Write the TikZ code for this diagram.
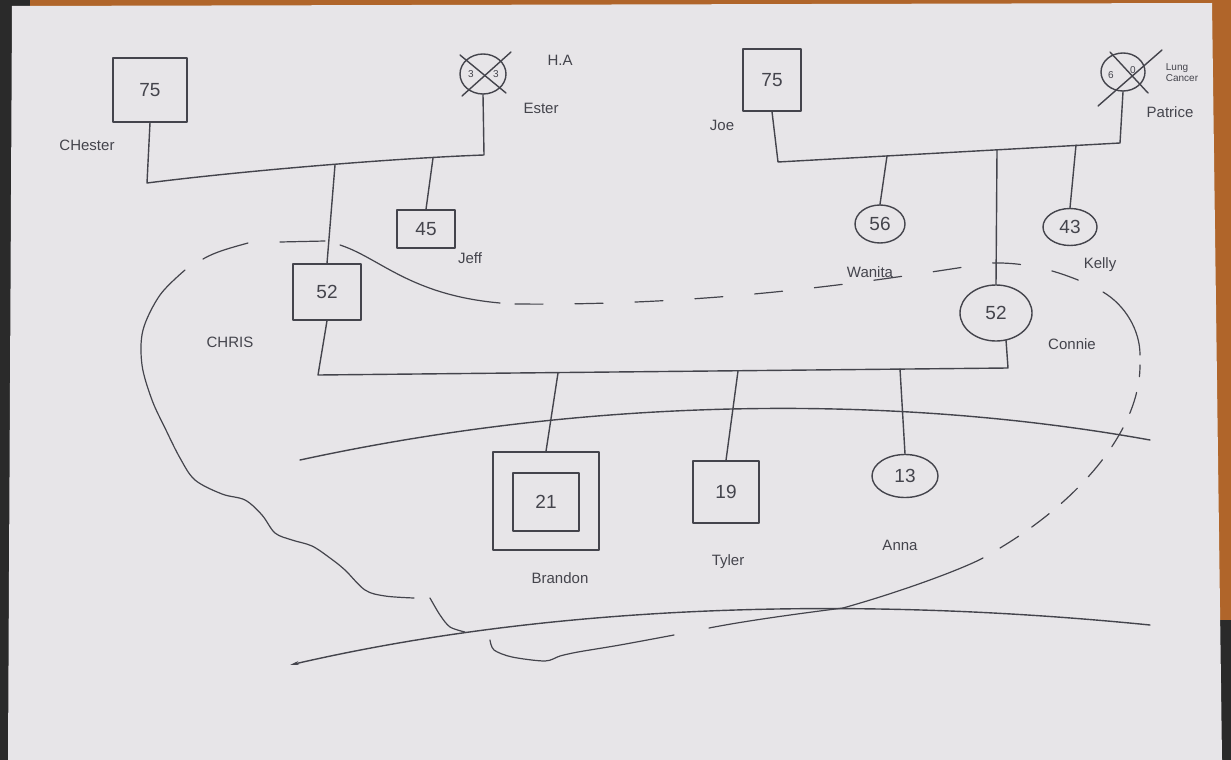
\documentclass[tikz,border=0pt]{standalone}
\usepackage{fontspec}
\setmainfont{Liberation Sans}
\usetikzlibrary{arrows.meta,shapes.geometric}
\definecolor{ink}{HTML}{44444C}
\definecolor{paper}{HTML}{E7E5E8}
\definecolor{wood}{HTML}{B0652A}
\definecolor{darkbg}{HTML}{2A2A2A}
\tikzset{
  pen/.style={draw=ink, line width=1.4pt, line join=round, line cap=round},
  bd/.style={draw=ink, line width=1.2pt, line join=round, line cap=round},
  male/.style={pen, rectangle, inner sep=0pt, text=ink, font=\fontsize{19}{19}\selectfont},
  female/.style={pen, ellipse, inner sep=0pt, text=ink, font=\fontsize{19}{19}\selectfont},
  lbl/.style={text=ink, inner sep=0pt, font=\fontsize{15}{15}\selectfont},
  small/.style={text=ink, inner sep=0pt, font=\fontsize{10}{10}\selectfont}
}
\begin{document}
\begin{tikzpicture}[x=1pt,y=-1pt]
% photo background and paper
\fill[darkbg] (0,0) rectangle (1231,760);
\fill[wood] (30,0) rectangle (1231,620);
\fill[paper] (12,6) -- (1212,3) -- (1222,760) -- (8,760) -- cycle;
\useasboundingbox (0,0) rectangle (1231,760);

% ---------- first generation ----------
\node[male, minimum width=74pt, minimum height=64pt] (chester) at (150,90) {75};
\node[lbl] (chesterl) at (87,145) {CHester};
\node[female, minimum width=46pt, minimum height=40pt] (esther) at (483,74) {};
\draw[pen] (460,55) -- (506,93);
\draw[pen] (511,52) -- (462,96);
\node[small] (est1) at (471,74) {3};
\node[small] (est2) at (496,74) {3};
\node[lbl] (hal) at (560,60) {H.A};
\node[lbl] (estherl) at (541,108) {Ester};

\node[male, minimum width=58pt, minimum height=62pt] (joe) at (772,80) {75};
\node[lbl] (joel) at (722,125) {Joe};
\node[female, minimum width=44pt, minimum height=38pt] (patrice) at (1123,72) {};
\draw[pen] (1098,106) -- (1162,50);
\draw[pen] (1110,52) -- (1148,93);
\node[small] (pat1) at (1111,75) {6};
\node[small] (pat2) at (1133,70) {0};
\node[small, align=left, font=\fontsize{10}{11}\selectfont] (lung) at (1182,73) {Lung\\Cancer};
\node[lbl] (patricel) at (1170,112) {Patrice};

% ---------- second generation ----------
\node[male, minimum width=68pt, minimum height=56pt] (chris) at (327,292) {52};
\node[lbl] (chrisl) at (230,342) {CHRIS};
\node[male, minimum width=58pt, minimum height=38pt] (jeff) at (426,229) {45};
\node[lbl] (jeffl) at (470,258) {Jeff};
\node[female, minimum width=50pt, minimum height=38pt] (wanita) at (880,224) {56};
\node[lbl] (wanital) at (870,272) {Wanita};
\node[female, minimum width=72pt, minimum height=56pt] (connie) at (996,313) {52};
\node[lbl] (conniel) at (1072,344) {Connie};
\node[female, minimum width=54pt, minimum height=37pt] (kelly) at (1070,227) {43};
\node[lbl] (kellyl) at (1100,265) {Kelly};

% ---------- third generation ----------
\node[male, minimum width=106pt, minimum height=98pt] (brandono) at (546,501) {};
\node[male, minimum width=66pt, minimum height=58pt] (brandon) at (546,502) {21};
\node[lbl] (brandonl) at (560,578) {Brandon};
\node[male, minimum width=66pt, minimum height=62pt] (tyler) at (726,492) {19};
\node[lbl] (tylerl) at (728,562) {Tyler};
\node[female, minimum width=66pt, minimum height=43pt] (anna) at (905,476) {13};
\node[lbl] (annal) at (900,545) {Anna};

% ---------- connectors ----------
\coordinate (cm) at (147,183);
\coordinate (em) at (484,155);
\coordinate (chrisd) at (335,165);
\coordinate (jeffd) at (433,158);
\draw[pen] (chester.south) -- (cm) .. controls (250,170) and (400,158) .. (em) -- (esther.south);
\draw[pen] (chrisd) -- (chris.north);
\draw[pen] (jeffd) -- (jeff.north);

\coordinate (jm) at (778,162);
\coordinate (pm) at (1120,143);
\coordinate (wand) at (887,156);
\coordinate (cond) at (997,150);
\coordinate (keld) at (1076,145);
\draw[pen] (joe.south) -- (jm) -- (pm) -- (patrice.south);
\draw[pen] (wand) -- (wanita.north);
\draw[pen] (cond) -- (connie.north);
\draw[pen] (keld) -- (kelly.north);

\coordinate (cc1) at (318,375);
\coordinate (cc2) at (1008,368);
\coordinate (brad) at (558,373);
\coordinate (tyld) at (738,371);
\coordinate (annd) at (900,369);
\draw[pen] (chris.south) -- (cc1) -- (cc2) -- (connie.-70);
\draw[pen] (brad) -- (brandono.north);
\draw[pen] (tyld) -- (tyler.north);
\draw[pen] (annd) -- (anna.north);

% ---------- long lines ----------
\draw[pen] (300,460) .. controls (600,395) and (900,395) .. (1150,440);
\draw[pen, {Stealth[length=9pt,width=4pt]}-] (290,665) .. controls (550,605) and (850,595) .. (1150,625);

% ---------- household boundary ----------
\draw[bd] (325,241) -- (280,242);
\draw[bd] (248,243) .. controls (230,248) and (215,252) .. (203,259);
\draw[bd] plot[smooth, tension=0.55] coordinates {(185,270) (160,295) (143,330) (142,365) (152,400) (165,428) (180,458) (195,480) (222,494) (245,500) (262,515) (275,533) (292,540) (312,546) (330,558) (345,570) (365,590) (385,596) (414,598)};
\draw[bd] plot[smooth] coordinates {(430,598) (440,615) (450,627) (465,632)};
\draw[bd] plot[smooth] coordinates {(490,640) (494,650) (512,657) (545,661) (560,656) (578,652) (620,645) (674,635)};
\draw[bd] (709,628) .. controls (740,622) and (780,616) .. (843,608)
          .. controls (900,592) and (960,570) .. (983,558);
\draw[bd, dash pattern=on 22pt off 16pt] (1000,548) .. controls (1080,500) and (1140,430) .. (1140,365);
\draw[bd] (1140,355) .. controls (1140,330) and (1125,305) .. (1103,292);
\draw[bd] (340,245) .. controls (380,258) and (410,295) .. (500,303);
\draw[bd, dash pattern=on 28pt off 32pt] (515,304) .. controls (720,306) and (880,280) .. (990,263)
          .. controls (1030,262) and (1060,272) .. (1090,285);
\end{tikzpicture}
\end{document}
